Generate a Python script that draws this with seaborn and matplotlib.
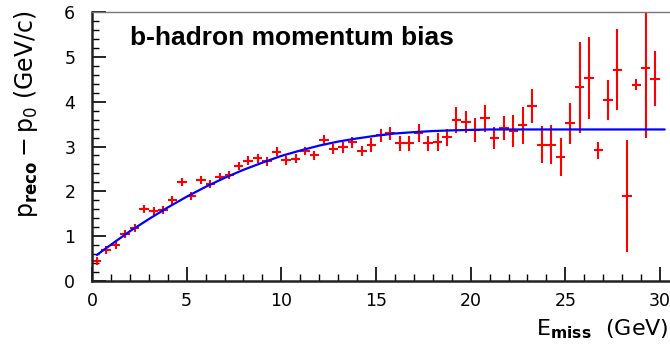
import numpy as np
import pandas as pd
import matplotlib
matplotlib.use("Agg")
import matplotlib.pyplot as plt
import seaborn as sns
from matplotlib.ticker import MultipleLocator

# ---- data ----
bin_centers = [0.25, 0.75, 1.25, 1.75, 2.25, 2.75, 3.25, 3.75, 4.25, 4.75,
               5.25, 5.75, 6.25, 6.75, 7.25, 7.75, 8.25, 8.75, 9.25, 9.75,
               10.25, 10.75, 11.25, 11.75, 12.25, 12.75, 13.25, 13.75, 14.25, 14.75,
               15.25, 15.75, 16.25, 16.75, 17.25, 17.75, 18.25, 18.75, 19.25, 19.75,
               20.25, 20.75, 21.25, 21.75, 22.25, 22.75, 23.25, 23.75, 24.25, 24.75,
               25.25, 25.75, 26.25, 26.75, 27.25, 27.75, 28.25, 28.75, 29.25, 29.75]
bias = [0.45, 0.69, 0.80, 1.04, 1.19, 1.60, 1.57, 1.59, 1.81, 2.21,
        1.90, 2.25, 2.17, 2.31, 2.36, 2.56, 2.68, 2.74, 2.67, 2.88,
        2.69, 2.73, 2.90, 2.80, 3.15, 2.94, 2.98, 3.09, 2.90, 3.03,
        3.25, 3.29, 3.07, 3.07, 3.31, 3.07, 3.11, 3.21, 3.58, 3.54,
        3.37, 3.63, 3.19, 3.41, 3.35, 3.47, 3.90, 3.04, 3.04, 2.77,
        3.52, 4.32, 4.53, 2.92, 4.04, 4.71, 1.90, 4.38, 4.76, 4.51]
bias_err = [0.09, 0.09, 0.09, 0.09, 0.09, 0.09, 0.09, 0.09, 0.09, 0.09,
            0.09, 0.09, 0.09, 0.09, 0.09, 0.09, 0.10, 0.10, 0.10, 0.10,
            0.10, 0.10, 0.10, 0.10, 0.11, 0.11, 0.13, 0.12, 0.12, 0.15,
            0.15, 0.15, 0.16, 0.16, 0.20, 0.17, 0.20, 0.19, 0.29, 0.25,
            0.26, 0.30, 0.24, 0.27, 0.36, 0.41, 0.38, 0.41, 0.43, 0.42,
            0.46, 1.02, 0.91, 0.19, 0.44, 0.90, 1.25, 0.13, 1.56, 0.61]
half_bin = 0.25

# fit curve
fit_x = [0.25, 1, 2, 3, 4, 5, 6, 7, 8, 9, 10, 11, 12, 13, 14, 15, 16, 17, 18,
         19, 20, 21, 30.25]
fit_y = [0.58, 0.81, 1.11, 1.38, 1.64, 1.88, 2.10, 2.30, 2.48, 2.64, 2.79, 2.91,
         3.02, 3.11, 3.18, 3.24, 3.29, 3.32, 3.345, 3.36, 3.37, 3.38, 3.38]

title_text = "b-hadron momentum bias"
xlabel_text = r"$\mathregular{E_{\mathbf{miss}}}$  (GeV)"
ylabel_text = r"$\mathregular{p_{\mathbf{reco}}-p_{0}}$ (GeV/c)"

sns.set_theme(style="white")
plt.rcParams["font.family"] = ["DejaVu Sans"]
plt.rcParams["text.color"] = "black"
plt.rcParams["axes.labelcolor"] = "black"

fig = plt.figure(figsize=(6.70, 3.47), dpi=100)
ax = fig.add_axes([92 / 670, 1 - 281 / 347, 1 - 92 / 670, (281 - 12) / 347])

df_fit = pd.DataFrame({"x": fit_x, "y": fit_y})
sns.lineplot(data=df_fit, x="x", y="y", ax=ax, color="#0000ff", lw=1.6, zorder=3)

ax.errorbar(bin_centers, bias, yerr=bias_err, xerr=half_bin, fmt="none",
            ecolor="#ff0000", elinewidth=1.5, capsize=0, zorder=2, clip_on=True)

ax.set_xlim(0, 30.53)
ax.set_ylim(0, 6)
ax.xaxis.set_major_locator(MultipleLocator(5))
ax.xaxis.set_minor_locator(MultipleLocator(1))
ax.yaxis.set_major_locator(MultipleLocator(1))
ax.yaxis.set_minor_locator(MultipleLocator(0.2))
ax.tick_params(axis="both", which="major", direction="in", length=10, width=1.2,
               color="black", labelsize=12.5, labelcolor="black")
ax.tick_params(axis="both", which="minor", direction="in", length=5, width=1.0,
               color="black")
ax.tick_params(axis="x", which="major", pad=8)
ax.tick_params(axis="y", which="major", pad=12)
ax.tick_params(top=False, right=False, which="both")
ax.tick_params(bottom=True, left=True, which="both")

for side in ["left", "bottom"]:
    ax.spines[side].set_color("#222222")
    ax.spines[side].set_linewidth(1.8)
ax.spines["top"].set_color("#777777")
ax.spines["top"].set_linewidth(1.0)
ax.spines["right"].set_visible(False)

ax.set_xlabel(xlabel_text, fontsize=16, loc="right", color="black")
ax.xaxis.set_label_coords(0.997, -0.135)
ax.set_ylabel(ylabel_text, fontsize=17, loc="top", color="black")
ax.yaxis.set_label_coords(-0.09, 1.005)

ax.text(2.0, 5.26, title_text, fontsize=19, fontweight="bold", color="black",
        family=["Liberation Sans"], ha="left", va="baseline")

fig.savefig("out.png", dpi=100)
